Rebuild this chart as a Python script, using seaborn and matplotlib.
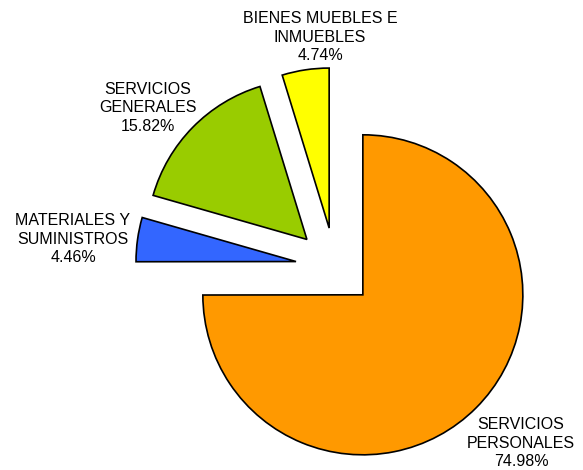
import matplotlib
matplotlib.use("Agg")
import matplotlib.pyplot as plt
import seaborn as sns

categories = ["SERVICIOS\nPERSONALES", "MATERIALES Y\nSUMINISTROS", "SERVICIOS\nGENERALES", "BIENES MUEBLES E\nINMUEBLES"]
values = [74.98, 4.46, 15.82, 4.74]
colors = ["#FF9900", "#3366FF", "#99CC00", "#FFFF00"]

sns.set_theme(style="white")
plt.rcParams["font.family"] = ["Liberation Sans", "DejaVu Sans"]

W, H, DPI = 583, 470, 100
fig = plt.figure(figsize=(W / DPI, H / DPI), dpi=DPI)
ax = fig.add_axes([0, 0, 1, 1])

# pixel geometry of the pie
cx, cy, R = 335.0, 267.0, 160.0

wedges, _ = ax.pie(values, colors=colors, startangle=90, counterclock=False,
                   explode=[0.246] * len(values), radius=1.0,
                   wedgeprops=dict(edgecolor="black", linewidth=1.2))

ax.set_xlim((0 - cx) / R, (W - cx) / R)
ax.set_ylim((cy - H) / R, (cy - 0) / R)
ax.set_aspect("equal")
ax.axis("off")

# label centres in pixels
label_px = [(521, 443), (73, 239), (148, 108), (320, 37)]
for lab, v, (px, py) in zip(categories, values, label_px):
    ax.text((px - cx) / R, (cy - py) / R, f"{lab}\n{v:.2f}%", ha="center", va="center",
            fontsize=11.5, color="black", linespacing=1.3)

fig.savefig("out.png", dpi=DPI)
